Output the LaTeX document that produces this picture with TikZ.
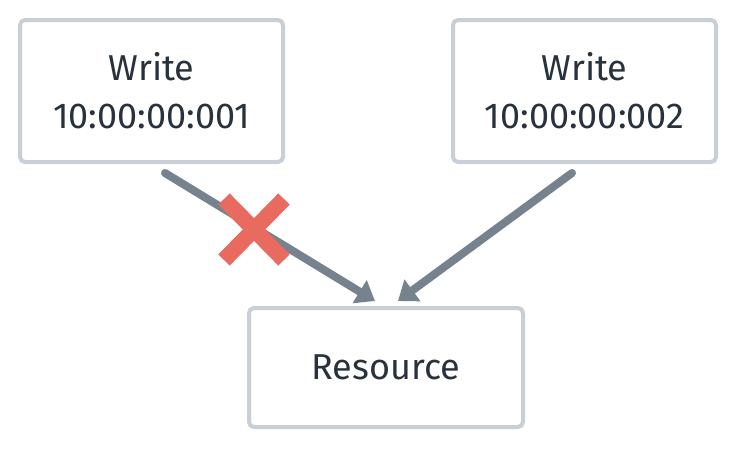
\documentclass[tikz,border=0pt]{standalone}
\usepackage{fontspec}
\setmainfont{Fira Sans}
\usetikzlibrary{arrows.meta}
\definecolor{boxgray}{HTML}{C8CFD6}
\definecolor{arrowgray}{HTML}{76838F}
\definecolor{xred}{HTML}{E96A5F}
\definecolor{txt}{HTML}{28323D}
\begin{document}
\begin{tikzpicture}[x=1pt,y=-1pt,
  box/.style={draw=boxgray, line width=4pt, rounded corners=5pt, fill=white,
    inner sep=0pt, align=center, text=txt,
    font=\fontsize{36}{48}\selectfont},
  arr/.style={draw=arrowgray, line width=8pt, line cap=round,
    -{Triangle[length=18pt,width=26pt]}},
  xmark/.style={draw=xred, line width=16pt}
]
\useasboundingbox (0,0) rectangle (736,448);
\node[box, minimum width=263pt, minimum height=142pt] (w1) at (151.5,91) {Write\\10:00:00:001};
\node[box, minimum width=263pt, minimum height=142pt] (w2) at (584.5,91) {Write\\10:00:00:002};
\node[box, minimum width=274pt, minimum height=119pt] (res) at (386,367.5) {Resource};
\coordinate (s1) at (165,173);
\coordinate (t1) at (375,301);
\coordinate (s2) at (572,173);
\coordinate (t2) at (398,301);
\draw[arr] (s1) -- (t1);
\draw[arr] (s2) -- (t2);
\coordinate (xa) at (224,199);
\coordinate (xb) at (284,260);
\coordinate (xc) at (284,199);
\coordinate (xd) at (224,260);
\draw[xmark] (xa) -- (xb);
\draw[xmark] (xc) -- (xd);
\end{tikzpicture}
\end{document}
